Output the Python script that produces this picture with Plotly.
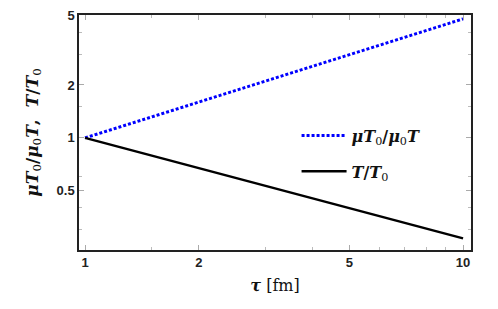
import plotly.graph_objects as go

tau = [1, 10]
mu_ratio = [1.0, 4.75]      # muT0/mu0T
t_ratio = [1.0, 0.268]      # T/T0

x_ticks = [1, 2, 5, 10]
x_tick_text = ["1", "2", "5", "10"]
x_minor = [1.5, 3, 4, 6, 7, 8, 9]
y_ticks = [0.5, 1, 2, 5]
y_tick_text = ["0.5", "1", "2", "5"]
y_minor = [0.3, 0.4, 0.6, 1.5, 3, 4]

serif = "DejaVu Serif, Liberation Serif, serif"
sans = "Liberation Sans, Arial, sans-serif"

fig = go.Figure()
fig.add_trace(go.Scatter(
    x=tau, y=mu_ratio, mode="lines",
    line=dict(color="#0000ff", width=3, dash="3px,2px"),
    name="<b><i>μT</i></b><sub>0</sub><b>/<i>μ</i></b><sub>0</sub><b><i>T</i></b>",
    legendgroup="a",
))
fig.add_trace(go.Scatter(
    x=tau, y=t_ratio, mode="lines",
    line=dict(color="#000000", width=2.5),
    name="<b><i>T</i>/<i>T</i></b><sub>0</sub>",
    legendgroup="b",
))

axis_common = dict(
    type="log", showgrid=False, zeroline=False,
    showline=True, linecolor="#222", linewidth=1.5, mirror="allticks",
    ticks="inside", ticklen=5, tickcolor="#aaa", tickwidth=1,
    tickfont=dict(family=sans, size=13, color="#222"),
)

fig.update_layout(
    width=498, height=309,
    margin=dict(l=79, r=27, t=8, b=59),
    paper_bgcolor="white", plot_bgcolor="white",
    xaxis=dict(
        range=[-0.016, 1.021],
        tickvals=x_ticks, ticktext=["<b>%s</b>" % t for t in x_tick_text],
        minor=dict(tickmode="array", tickvals=x_minor, ticks="inside",
                   ticklen=3, tickcolor="#bbb"),
        title=dict(text="<b><i>τ</i></b> [fm]", font=dict(family=serif, size=16, color="#111"),
                   standoff=10),
        **axis_common,
    ),
    yaxis=dict(
        range=[-0.638, 0.699],
        tickvals=y_ticks, ticktext=["<b>%s</b>" % t for t in y_tick_text],
        minor=dict(tickmode="array", tickvals=y_minor, ticks="inside",
                   ticklen=3, tickcolor="#bbb"),
        title=dict(text="<b><i>μT</i></b><sub>0</sub><b>/<i>μ</i></b><sub>0</sub><b><i>T</i>,  <i>T</i>/<i>T</i></b><sub>0</sub>",
                   font=dict(family=serif, size=17, color="#111"), standoff=14),
        **axis_common,
    ),
    showlegend=True,
    legend=dict(
        x=0.555, y=0.41, xanchor="left", yanchor="middle",
        bgcolor="rgba(0,0,0,0)", borderwidth=0,
        font=dict(family=serif, size=16, color="#111"),
        tracegroupgap=12, traceorder="grouped", itemwidth=45,
    ),
)

fig.write_html("out.html", config={"displayModeBar": False},
               post_script="document.body.style.margin='0';")
